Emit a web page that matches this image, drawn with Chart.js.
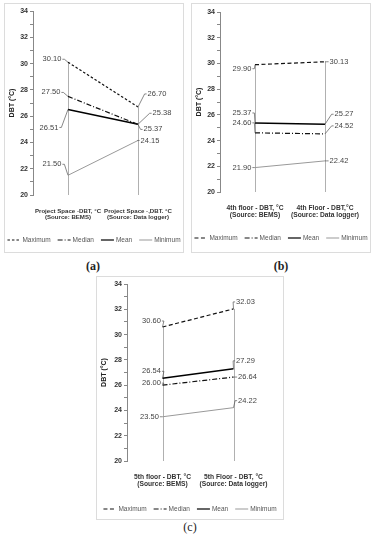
<!DOCTYPE html>
<html lang="en">
<head>
<meta charset="UTF-8">
<title>DBT comparison</title>
<script src="https://cdn.jsdelivr.net/npm/chart.js"></script>
<style>
  body { margin: 0; width: 376px; height: 550px; background: #fff; position: relative; overflow: hidden; }
  .box { position: absolute; border: 1px solid #dcdcdc; box-sizing: border-box; }
  canvas { position: absolute; }
  .cap { position: absolute; font-family: 'Liberation Serif', serif; font-size: 12px; font-weight: bold; color: #222; transform: translateX(-50%); }
</style>
</head>
<body>

<div class="box" style="left:4px;top:3px;width:180px;height:250px"></div>
<canvas id="chartA" width="180" height="250" style="left:4px;top:3px"></canvas>
<div class="cap" style="left:93px;top:259px">(a)</div>

<div class="box" style="left:191px;top:3px;width:180px;height:250px"></div>
<canvas id="chartB" width="180" height="250" style="left:191px;top:3px"></canvas>
<div class="cap" style="left:281px;top:259px">(b)</div>

<div class="box" style="left:96px;top:276px;width:188px;height:244px"></div>
<canvas id="chartC" width="188" height="244" style="left:96px;top:276px"></canvas>
<div class="cap" style="left:190px;top:520px;font-weight:normal">(c)</div>

<script>
// dados
const seriesNames = ['Maximum', 'Median', 'Mean', 'Minimum'];
const yMin = 20, yMax = 34;

const catsA = [['Project Space -DBT, °C', '(Source: BEMS)'], ['Project Space -,DBT. °C', '(Source: Data logger)']];
const maxA = [30.10, 26.70];
const medianA = [27.50, 25.37];
const meanA = [26.51, 25.38];
const minA = [21.50, 24.15];

const catsB = [['4th floor - DBT, °C', '(Source: BEMS)'], ['4th Floor - DBT,°C', '(Source: Data logger)']];
const maxB = [29.90, 30.13];
const medianB = [24.60, 24.52];
const meanB = [25.37, 25.27];
const minB = [21.90, 22.42];

const catsC = [['5th floor - DBT, °C', '(Source: BEMS)'], ['5th Floor - DBT, °C', '(Source: Data logger)']];
const maxC = [30.60, 32.03];
const medianC = [26.00, 26.64];
const meanC = [26.54, 27.29];
const minC = [23.50, 24.22];

// estilo das linhas
const lineColors = ['#111', '#111', '#000', '#999'];
const lineWidths = [1.2, 1.2, 1.5, 1];
const sans = "'Liberation Sans', sans-serif";

// linhas verticais do eixo ate o maximo de cada categoria
const dropLines = {
    id: 'dropLines',
    beforeDatasetsDraw(chart) {
        const { ctx, scales: { x, y } } = chart;
        ctx.save();
        ctx.strokeStyle = '#b0b0b0';
        ctx.lineWidth = 1;
        chart.data.labels.forEach((l, i) => {
            const top = Math.max(...chart.data.datasets.map(d => d.data[i]));
            const px = Math.round(x.getPixelForValue(i)) + 0.5;
            ctx.beginPath();
            ctx.moveTo(px, y.getPixelForValue(yMin));
            ctx.lineTo(px, y.getPixelForValue(top));
            ctx.stroke();
        });
        ctx.restore();
    }
};

// rotulos de valor com linha de chamada
const valueLabels = {
    id: 'valueLabels',
    afterDatasetsDraw(chart, args, opts) {
        const ctx = chart.ctx;
        ctx.save();
        ctx.font = "7.5px " + sans;
        ctx.fillStyle = '#444';
        ctx.strokeStyle = '#555';
        ctx.lineWidth = 0.7;
        ctx.textBaseline = 'middle';
        ctx.textAlign = 'center';
        chart.data.datasets.forEach((ds, i) => {
            chart.getDatasetMeta(i).data.forEach((pt, j) => {
                const [dx, dy] = opts.pos[i][j];
                const txt = ds.data[j].toFixed(2);
                const w = ctx.measureText(txt).width;
                const tx = pt.x + dx, ty = pt.y + dy;
                ctx.fillText(txt, tx, ty);
                const ex = dx < 0 ? tx + w / 2 + 1 : tx - w / 2 - 1;
                const ex2 = dx < 0 ? ex + 2 : ex - 2;
                ctx.beginPath();
                ctx.moveTo(ex, ty);
                ctx.lineTo(ex2, ty);
                ctx.lineTo(pt.x, pt.y);
                ctx.stroke();
            });
        });
        ctx.restore();
    }
};

// legenda desenhada a mao (amostra de linha + texto)
const lineLegend = {
    id: 'lineLegend',
    afterDraw(chart, args, opts) {
        const ctx = chart.ctx;
        ctx.save();
        ctx.font = "6.5px " + sans;
        ctx.textBaseline = 'middle';
        const sample = 13, gap = 2, space = 7;
        const items = chart.data.datasets.map(d => ({ d, w: ctx.measureText(d.label).width }));
        const total = items.reduce((s, it) => s + sample + gap + it.w, 0) + space * (items.length - 1);
        let x = chart.width / 2 - total / 2;
        const y = opts.y;
        items.forEach(it => {
            ctx.strokeStyle = it.d.borderColor;
            ctx.lineWidth = Math.min(it.d.borderWidth, 1.2);
            ctx.setLineDash(it.d.borderDash || []);
            ctx.beginPath();
            ctx.moveTo(x, y);
            ctx.lineTo(x + sample, y);
            ctx.stroke();
            ctx.setLineDash([]);
            ctx.fillStyle = '#555';
            ctx.fillText(it.d.label, x + sample + gap, y);
            x += sample + gap + it.w + space;
        });
        ctx.restore();
    }
};

function buildChart(id, cats, values, opt) {
    const datasets = seriesNames.map((name, i) => ({
        label: name,
        data: values[i],
        borderColor: lineColors[i],
        borderWidth: lineWidths[i],
        borderDash: opt.dashes[i],
        pointRadius: 0,
        fill: false,
        tension: 0
    }));

    return new Chart(document.getElementById(id), {
        type: 'line',
        data: { labels: cats, datasets: datasets },
        options: {
            responsive: false,
            animation: false,
            layout: { padding: { left: 0, top: opt.padTop, right: opt.padRight, bottom: 0 } },
            plugins: {
                legend: { display: false },
                tooltip: { enabled: false },
                valueLabels: { pos: opt.labelPos },
                lineLegend: { y: opt.legendY }
            },
            scales: {
                x: {
                    offset: true,
                    grid: { display: false },
                    border: { display: false },
                    ticks: {
                        autoSkip: false,
                        maxRotation: 0,
                        padding: 5,
                        color: '#333',
                        font: { family: sans, size: opt.xFont, weight: 'bold', lineHeight: 1.05 }
                    },
                    afterFit(scale) { scale.height = opt.xHeight; }
                },
                y: {
                    min: yMin,
                    max: yMax,
                    ticks: {
                        stepSize: 1,
                        autoSkip: false,
                        padding: 2,
                        color: '#333',
                        font: { family: sans, size: 7, weight: 'bold' },
                        callback: v => (v % 2 === 0 ? v : '')
                    },
                    grid: { drawOnChartArea: false, tickLength: 3, color: '#888' },
                    border: { color: '#888' },
                    title: {
                        display: true,
                        text: 'DBT (°C)',
                        color: '#222',
                        padding: { top: 4, bottom: 0 },
                        font: { family: sans, size: 7, weight: 'bold' }
                    },
                    afterFit(scale) { scale.width = opt.yWidth; }
                }
            }
        },
        plugins: [dropLines, valueLabels, lineLegend]
    });
}

buildChart('chartA', catsA, [maxA, medianA, meanA, minA], {
    padTop: 8, padRight: 11, yWidth: 29, xHeight: 58, legendY: 237, xFont: 6.1,
    dashes: [[2.5, 2], [5, 2, 1, 2], [], []],
    labelPos: [
        [[-16, -3], [19, -13]],
        [[-17, -4], [15, 5]],
        [[-19, 18], [24, -11]],
        [[-16, -11], [12, 0]]
    ]
});

buildChart('chartB', catsB, [maxB, medianB, meanB, minB], {
    padTop: 9, padRight: 11, yWidth: 29, xHeight: 61, legendY: 235, xFont: 6.7,
    dashes: [[4, 2.5], [5, 2, 1, 2], [], []],
    labelPos: [
        [[-13, 4], [14, 0]],
        [[-13, -10], [19, -8]],
        [[-13, -10], [19, -10]],
        [[-13, 0], [14, 0]]
    ]
});

buildChart('chartC', catsC, [maxC, medianC, meanC, minC], {
    padTop: 8, padRight: 15, yWidth: 31, xHeight: 59, legendY: 233, xFont: 6.7,
    dashes: [[4, 2.5], [5, 2, 1, 2], [], []],
    labelPos: [
        [[-11, -6], [12, -7]],
        [[-11, -2], [14, 0]],
        [[-11, -7], [12, -8]],
        [[-13, 0], [14, -7]]
    ]
});
</script>
</body>
</html>
